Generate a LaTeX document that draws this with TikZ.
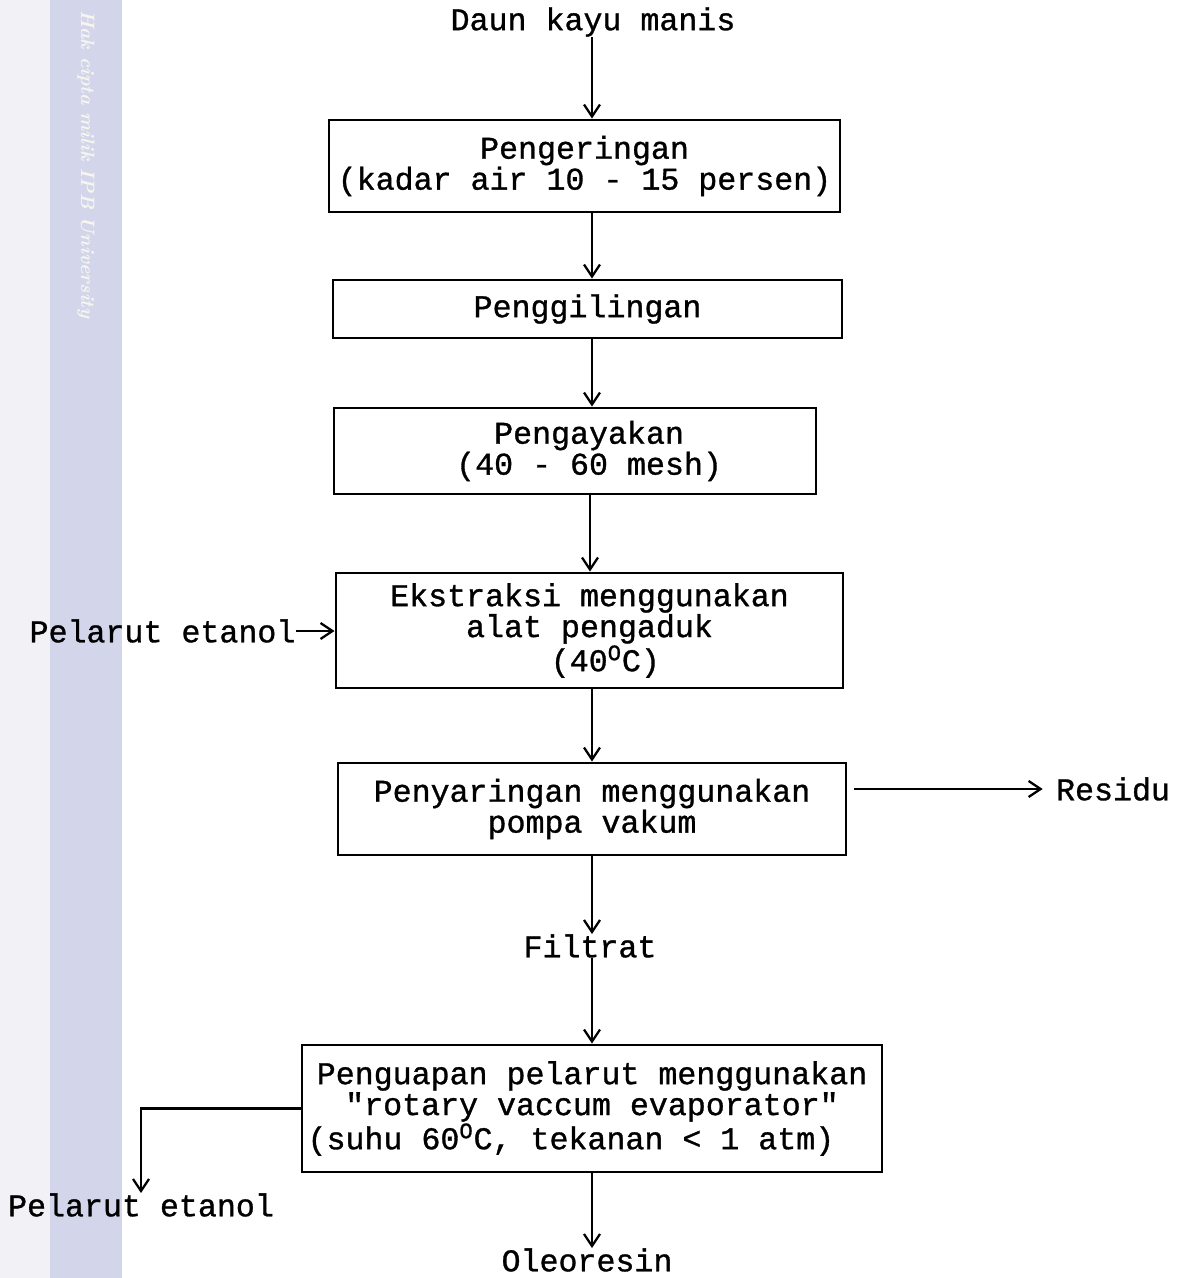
\documentclass[tikz,border=0pt]{standalone}
\usepackage{fontspec}
\usetikzlibrary{arrows.meta}
\newfontfamily\typew{Liberation Mono}[FakeBold=1]
\definecolor{wmgrey}{RGB}{242,242,246}
\definecolor{wmband}{RGB}{211,214,234}
\definecolor{wmtext}{RGB}{246,246,238}
\tikzset{
  stepbox/.style={draw,line width=1.6pt,inner sep=0pt,align=center,
    font=\typew\fontsize{18}{17.6}\selectfont},
  txt/.style={inner sep=0pt,font=\typew\fontsize{18}{17.6}\selectfont},
  flow/.style={line width=1.3pt,-{Straight Barb[length=2.4mm,width=3.2mm]}}
}

\begin{document}
\begin{tikzpicture}[x=0.2mm,y=-0.2mm]
\useasboundingbox (0,0) rectangle (1180,1278);
% scan margin
\fill[wmgrey] (0,0) rectangle (50,1278);
\fill[wmband] (50,0) rectangle (122,1278);
\node[rotate=-90,anchor=west,text=wmtext,font=\bfseries\itshape\fontsize{11}{11}\selectfont]
  (mark) at (86,4) {Hak cipta milik IPB University};

\coordinate (spine) at (592,0);

\node[txt] (leaf) at (593,22) {Daun kayu manis};
\node[stepbox,minimum width=102.2mm,minimum height=18.4mm] (dry) at (584.5,166)
  {Pengeringan\\(kadar air 10 - 15 persen)};
\node[stepbox,minimum width=101.8mm,minimum height=11.6mm] (mill) at (587.5,309)
  {Penggilingan};
\node[stepbox,minimum width=96.4mm,minimum height=17.2mm] (sieve) at (575,451)
  {\hspace*{16pt}Pengayakan\\\hspace*{16pt}(40 - 60 mesh)};
\node[stepbox,minimum width=101.4mm,minimum height=23mm] (extr) at (589.5,630.5)
  {Ekstraksi menggunakan\\alat pengaduk\\\hspace*{18pt}(40\textsuperscript{O}C)};
\node[stepbox,minimum width=101.6mm,minimum height=18.4mm] (filt) at (592,809)
  {Penyaringan menggunakan\\pompa vakum};
\node[txt] (filtrat) at (590,946) {Filtrat};
\node[stepbox,minimum width=116mm,minimum height=25.4mm] (evap) at (592,1108.5)
  {Penguapan pelarut menggunakan\\"rotary vaccum evaporator"\\(suhu 60\textsuperscript{O}C, tekanan < 1 atm)\hspace*{24pt}};
\node[txt] (oleo) at (587,1260) {Oleoresin};

\node[txt] (solvin) at (162.5,631) {Pelarut etanol};
\node[txt] (residu) at (1113,789) {Residu};
\node[txt] (solvout) at (141,1205) {Pelarut etanol};

\draw[flow] (spine |- leaf.south) -- (spine |- dry.north);
\draw[flow] (spine |- dry.south) -- (spine |- mill.north);
\draw[flow] (spine |- mill.south) -- (spine |- sieve.north);
\draw[flow] ([xshift=-0.4mm]spine |- sieve.south) -- ([xshift=-0.4mm]spine |- extr.north);
\draw[flow] (spine |- extr.south) -- (spine |- filt.north);
\draw[flow] (spine |- filt.south) -- (spine |- filtrat.north);
\draw[flow] (spine |- filtrat.south) -- (spine |- evap.north);
\draw[flow] (spine |- evap.south) -- (spine |- oleo.north);

\draw[flow] (solvin.east) -- (extr.west |- solvin);
\draw[flow,shorten <=1.4mm] (filt.east |- residu) -- ([xshift=-2.6mm]residu.west);
\draw[flow] (evap.west) -| (solvout.north);
\end{tikzpicture}
\end{document}
